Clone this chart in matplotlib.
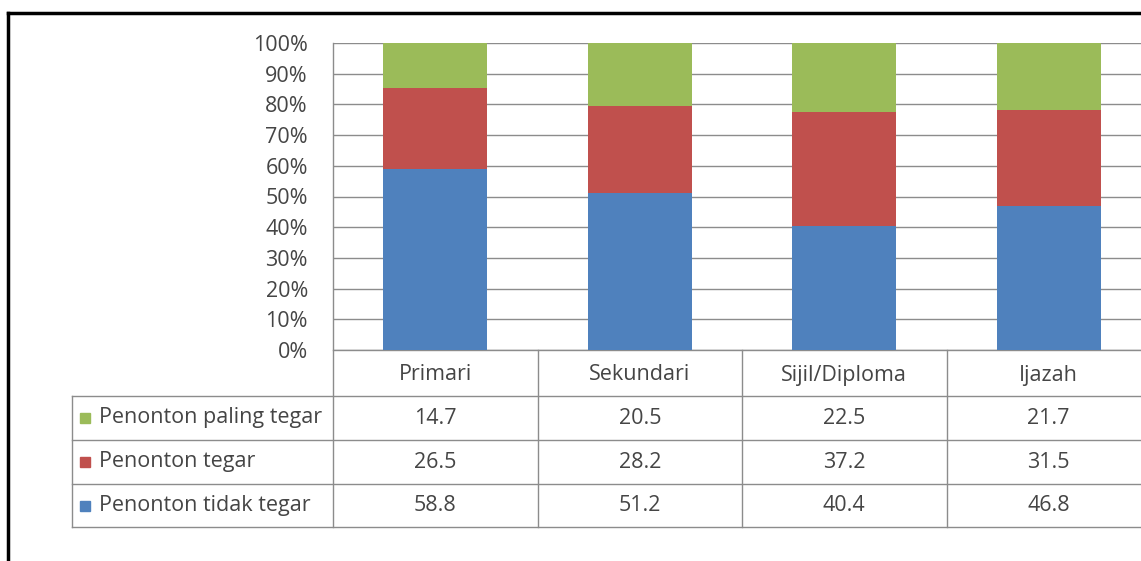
import matplotlib
matplotlib.use("Agg")
import matplotlib.pyplot as plt
from matplotlib.transforms import blended_transform_factory
from matplotlib.patches import Rectangle
from matplotlib.lines import Line2D

# Données
categories = ["Primari", "Sekundari", "Sijil/Diploma", "Ijazah"]
tidak_tegar = [58.8, 51.2, 40.4, 46.8]
tegar = [26.5, 28.2, 37.2, 31.5]
paling_tegar = [14.7, 20.5, 22.5, 21.7]
series_names = ["Penonton paling tegar", "Penonton tegar", "Penonton tidak tegar"]
y_ticks = [0, 10, 20, 30, 40, 50, 60, 70, 80, 90, 100]

colors = {"tidak": "#4F81BD", "tegar": "#C0504D", "paling": "#9BBB59"}
text_col = "#454545"
grid_col = "#8C8C8C"
fs = 15.5

plt.rcParams['font.family'] = ['Open Sans', 'DejaVu Sans']

W, H = 1141, 561
fig = plt.figure(figsize=(W / 100, H / 100), dpi=100)

# zone de tracé (en pixels) : gauche 333, haut 43, bas 350, largeur 4 catégories
px_left, px_top, px_bot, cat_w = 333, 43, 350, 204.5
ax_h = px_bot - px_top
ax = fig.add_axes([px_left / W, (H - px_bot) / H, 4 * cat_w / W, ax_h / H])

x = list(range(len(categories)))
bw = 0.51
ax.bar(x, tidak_tegar, bw, color=colors["tidak"], zorder=3)
ax.bar(x, tegar, bw, bottom=tidak_tegar, color=colors["tegar"], zorder=3)
bottom2 = [a + b for a, b in zip(tidak_tegar, tegar)]
ax.bar(x, paling_tegar, bw, bottom=bottom2, color=colors["paling"], zorder=3)

ax.set_xlim(-0.5, len(categories) - 0.5)
ax.set_ylim(0, 100)
ax.set_yticks(y_ticks)
ax.set_yticklabels([f"{t}%" for t in y_ticks], fontsize=fs, color=text_col)
ax.tick_params(axis="y", length=0, pad=18)
ax.set_xticks([])
for s in ax.spines.values():
    s.set_visible(False)
ax.yaxis.grid(True, color=grid_col, lw=1, zorder=0)
ax.set_axisbelow(True)

# Tableau de données sous le graphique
tr = blended_transform_factory(ax.transData, ax.transAxes)
def yf(py):
    return (px_bot - py) / ax_h

row_px = [350, 396, 440, 484, 527]
x_label_left = -0.5 - (px_left - 72) / cat_w
x_right = len(categories) + 0.5

# lignes horizontales
ax.add_line(Line2D([-0.5, x_right], [yf(350)] * 2, transform=tr, color=grid_col, lw=1, clip_on=False))
for py in row_px[1:]:
    ax.add_line(Line2D([x_label_left, x_right], [yf(py)] * 2, transform=tr, color=grid_col, lw=1, clip_on=False))
# lignes verticales
ax.add_line(Line2D([-0.5, -0.5], [1, yf(527)], transform=tr, color=grid_col, lw=1, clip_on=False))
ax.add_line(Line2D([x_label_left] * 2, [yf(396), yf(527)], transform=tr, color=grid_col, lw=1, clip_on=False))
for i in range(1, len(categories)):
    ax.add_line(Line2D([i - 0.5] * 2, [yf(350), yf(527)], transform=tr, color=grid_col, lw=1, clip_on=False))

# en-têtes de catégories
for i, c in enumerate(categories):
    ax.text(i, yf(375), c, transform=tr, ha="center", va="center", fontsize=fs, color=text_col)

rows = [(series_names[0], paling_tegar, colors["paling"]),
        (series_names[1], tegar, colors["tegar"]),
        (series_names[2], tidak_tegar, colors["tidak"])]
sq = 10
for r, (name, vals, col) in enumerate(rows):
    yc = yf((row_px[r + 1] + row_px[r + 2]) / 2)
    ax.add_patch(Rectangle((x_label_left + 8 / cat_w, yc - (sq / 2) / ax_h), sq / cat_w, sq / ax_h,
                           transform=tr, color=col, clip_on=False))
    ax.text(x_label_left + 27 / cat_w, yc, name, transform=tr, ha="left", va="center",
            fontsize=fs, color=text_col)
    for i, v in enumerate(vals):
        ax.text(i, yc, f"{v}", transform=tr, ha="center", va="center", fontsize=fs, color=text_col)

# cadre noir autour de l'image
fig.add_artist(Line2D([7.5 / W, 7.5 / W], [0, 1 - 13 / H], transform=fig.transFigure, color="black", lw=2.5))
fig.add_artist(Line2D([7.5 / W, 1], [1 - 13 / H] * 2, transform=fig.transFigure, color="black", lw=2.5))

fig.savefig("out.png", dpi=100)
